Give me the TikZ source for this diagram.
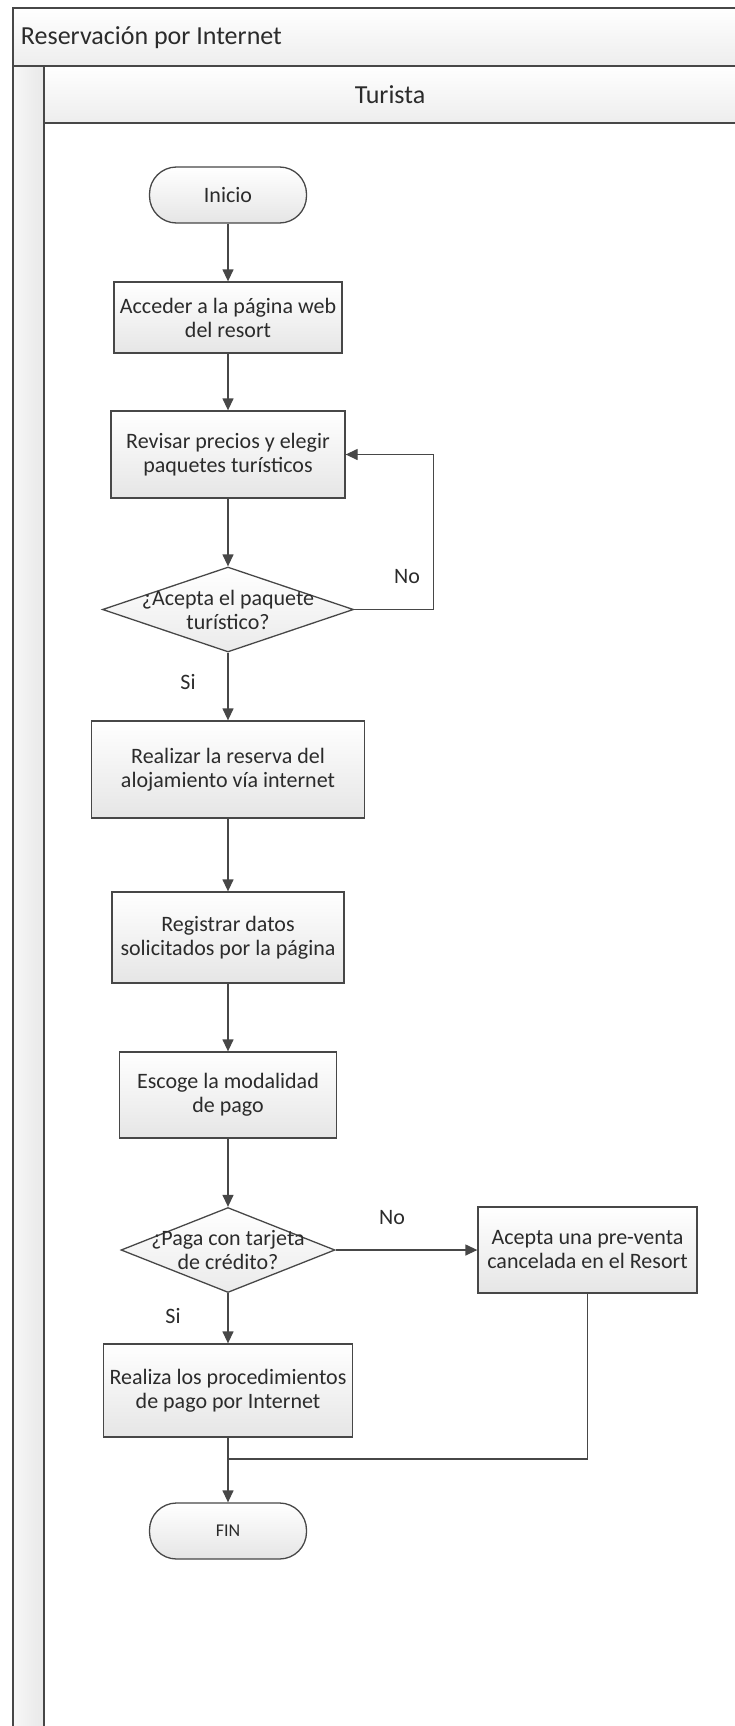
\documentclass[tikz,border=0pt]{standalone}
\usepackage{fontspec}
\setmainfont{Carlito}
\usetikzlibrary{arrows.meta,shapes.geometric,positioning}

\definecolor{borde}{HTML}{474747}
\definecolor{tinta}{HTML}{2B2B2B}

\begin{document}
\begin{tikzpicture}[x=1pt,y=-1pt,line width=1.3pt,>={Triangle[length=12pt,width=11pt]},
  letra/.style={font=\fontsize{22}{24}\selectfont,text=tinta},
  proceso/.style={letra,draw=borde,top color=white,bottom color=black!10,align=center,inner sep=0pt},
  decision/.style={diamond,draw=borde,top color=white,bottom color=black!8,inner sep=0pt},
  terminal/.style={letra,draw=borde,top color=white,bottom color=black!10,rounded corners=27pt,minimum width=157pt,minimum height=56pt},
  flecha/.style={draw=borde,->},
  etiqueta/.style={letra,inner sep=0pt},
  cabecera/.style={font=\fontsize{26}{30}\selectfont,text=tinta}]
  \useasboundingbox (0,0) rectangle (734,1726);
  % pool y carril
  \shade[top color=white,bottom color=black!7] (13,8) rectangle (760,66);
  \shade[left color=black!3,right color=black!9] (13,66) rectangle (44,1740);
  \shade[top color=white,bottom color=black!7] (44,66) rectangle (760,123);
  \draw[borde,line width=1.5pt] (760,8) -- (13,8) -- (13,1740);
  \draw[borde,line width=1.5pt] (13,66) -- (760,66) (44,66) -- (44,1740) (44,123) -- (760,123);
  \node[cabecera,anchor=west] (titulo) at (17,38) {Reservación por Internet};
  \node[cabecera] (carril) at (390,95) {Turista};
  % pasos
  \node[terminal] (inicio) at (228,195) {Inicio};
  \node[proceso,minimum width=228pt,minimum height=71pt] (acceder) at (228,317.5) {Acceder a la página web\\del resort};
  \node[proceso,minimum width=234pt,minimum height=87pt] (revisar) at (228,454.5) {Revisar precios y elegir\\paquetes turísticos};
  \node[decision,minimum width=251pt,minimum height=85pt] (acepta) at (228,609.5) {};
  \node[etiqueta,align=center] (acepta-txt) at (acepta) {¿Acepta el paquete\\turístico?};
  \node[proceso,minimum width=273pt,minimum height=97pt] (reserva) at (228,769.5) {Realizar la reserva del\\alojamiento vía internet};
  \node[proceso,minimum width=232pt,minimum height=91pt] (registrar) at (228,937.5) {Registrar datos\\solicitados por la página};
  \node[proceso,minimum width=217pt,minimum height=86pt] (modalidad) at (228,1095) {Escoge la modalidad\\de pago};
  \node[decision,minimum width=214pt,minimum height=85pt] (tarjeta) at (228,1250) {};
  \node[etiqueta,align=center] (tarjeta-txt) at (tarjeta) {¿Paga con tarjeta\\de crédito?};
  \node[proceso,minimum width=219pt,minimum height=86pt] (preventa) at (587.5,1250) {Acepta una pre-venta\\cancelada en el Resort};
  \node[proceso,minimum width=249pt,minimum height=93pt] (pago) at (228,1390.5) {Realiza los procedimientos\\de pago por Internet};
  \node[terminal,font=\fontsize{18}{20}\selectfont] (fin) at (228,1531) {FIN};
  % flujo
  \draw[flecha] (inicio) -- (acceder);
  \draw[flecha] (acceder) -- (revisar);
  \draw[flecha] (revisar) -- (acepta);
  \draw[flecha] (acepta.east) -- ++(79,0) coordinate (vuelta) |- (revisar.east);
  \node[etiqueta] (no1) at (407,577) {No};
  \draw[flecha] (acepta) -- (reserva);
  \node[etiqueta] (si1) at (188,682) {Si};
  \draw[flecha] (reserva) -- (registrar);
  \draw[flecha] (registrar) -- (modalidad);
  \draw[flecha] (modalidad) -- (tarjeta);
  \draw[flecha] (tarjeta) -- (preventa);
  \node[etiqueta] (no2) at (392,1218) {No};
  \draw[flecha] (tarjeta) -- (pago);
  \node[etiqueta] (si2) at (173,1316) {Si};
  \draw[flecha] (pago) -- (fin);
  \coordinate (union) at (228,1459);
  \draw[borde] (preventa) |- (union);
\end{tikzpicture}
\end{document}
